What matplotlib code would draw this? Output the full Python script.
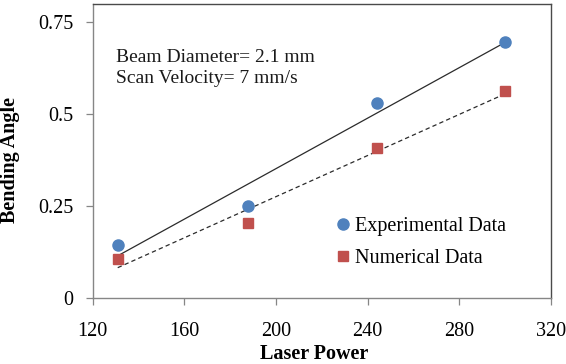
import numpy as np
import matplotlib
matplotlib.use("Agg")
import matplotlib.pyplot as plt

laser_power = [131, 188, 244, 300]
experimental = [0.145, 0.251, 0.531, 0.697]
numerical = [0.105, 0.204, 0.407, 0.563]
x_ticks = [120, 160, 200, 240, 280, 320]
y_ticks = [0, 0.25, 0.5, 0.75]
y_tick_labels = ["0", "0.25", "0.5", "0.75"]

plt.rcParams['font.family'] = ['Liberation Serif', 'DejaVu Serif']

fig = plt.figure(figsize=(5.66, 3.64), dpi=100)
ax = fig.add_axes([92.5/566, 1-298/364, (551-92.5)/566, (298-4)/364])

blue = '#4F81BD'
red = '#C0504D'

x = np.array(laser_power, dtype=float)
xe = np.array([x.min(), x.max()])
pe = np.polyfit(x, experimental, 1)
pn = np.polyfit(x, numerical, 1)
ax.plot(xe, np.polyval(pe, xe), color='#2b2b2b', lw=0.9, zorder=2)
ax.plot(xe, np.polyval(pn, xe), color='#2b2b2b', lw=0.9, ls=(0, (3.5, 2.5)), zorder=2)

ax.plot(laser_power, experimental, 'o', color=blue, ms=8, mec=blue, zorder=3,
        label='Experimental Data')
ax.plot(laser_power, numerical, 's', color=red, ms=7.5, mec=red, zorder=3,
        label='Numerical Data')

ax.set_xlim(120, 320)
ax.set_ylim(0, 0.8)
ax.set_xticks(x_ticks)
ax.set_yticks(y_ticks)
ax.set_yticklabels(y_tick_labels)
ax.tick_params(axis='both', labelsize=14.5, length=5, width=0.9, color='#868686',
               direction='out')
ax.tick_params(axis='x', pad=12)
ax.tick_params(axis='y', pad=9)

for s in ['left', 'bottom']:
    ax.spines[s].set_color('#868686')
    ax.spines[s].set_linewidth(1.0)
for s in ['top', 'right']:
    ax.spines[s].set_color('#4a4a4a')
    ax.spines[s].set_linewidth(1.0)

ax.set_xlabel('Laser Power', fontsize=14.5, fontweight='bold')
ax.xaxis.set_label_coords((314-92.5)/458.5, (298-344)/294)
ax.set_ylabel('Bending Angle', fontsize=14.5, fontweight='bold')
ax.yaxis.set_label_coords((20-92.5)/458.5, (298-160)/294)

ax.text((116-92.5)/458.5, (298-83)/294, 'Beam Diameter= 2.1 mm\nScan Velocity= 7 mm/s',
        fontsize=14, transform=ax.transAxes, va='baseline', ha='left',
        linespacing=1.3, color='#1a1a1a')

leg = ax.legend(loc='upper left', bbox_to_anchor=((337-92.5)/458.5, (298-217)/294),
                frameon=False, fontsize=14.5, handlelength=0.6, handletextpad=0.3,
                labelspacing=0.65, borderpad=0, borderaxespad=0)

fig.savefig('out.png', dpi=100)
